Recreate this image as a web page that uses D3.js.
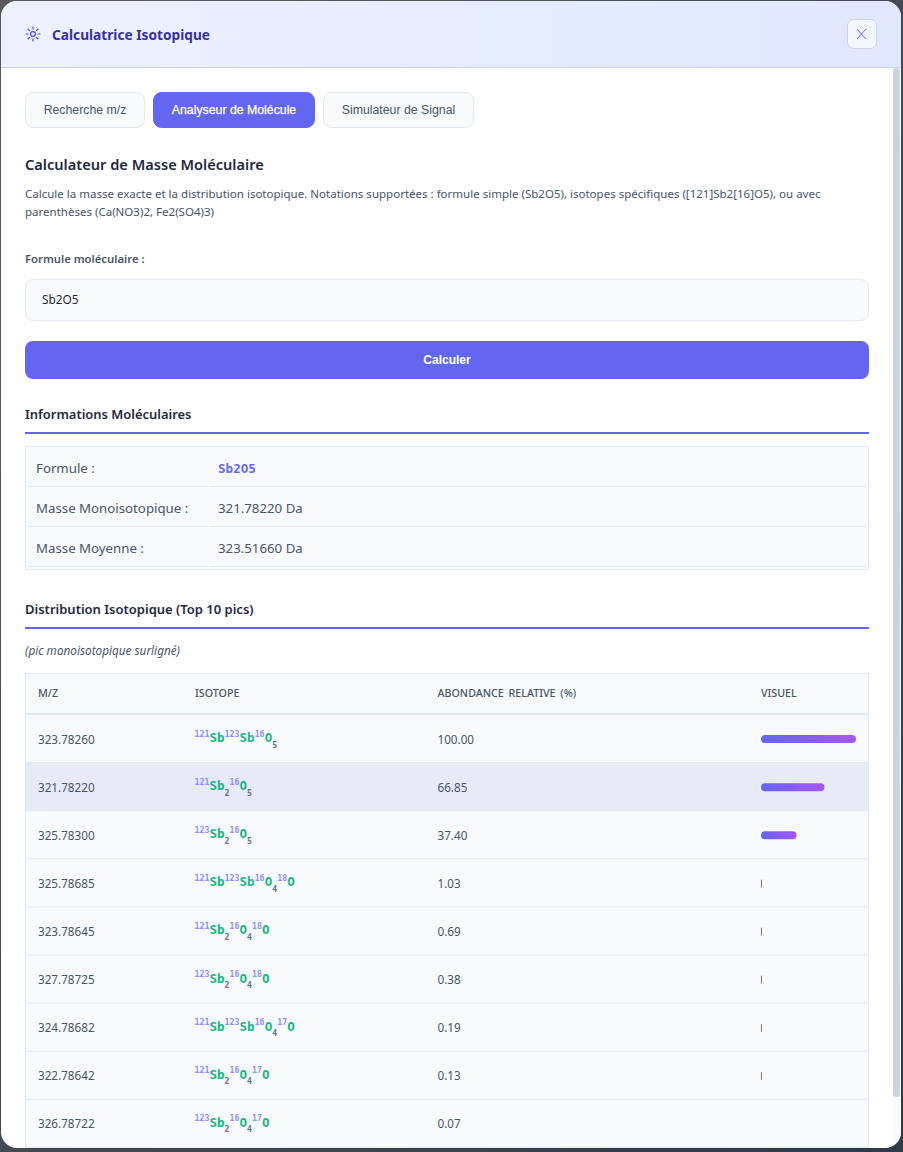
<!DOCTYPE html>
<html lang="fr">

<head>
    <meta charset="UTF-8">
    <title>Calculatrice Isotopique</title>
    <style>
    html, body { margin: 0; padding: 0; background: #3c484d; overflow: hidden; }
    svg { display: block; }
    text { font-family: "Noto Sans", "Open Sans", sans-serif; }
    .arial { font-family: "Liberation Sans", Arial, sans-serif; }
    .mono { font-family: "DejaVu Sans Mono", monospace; font-weight: bold; }
    </style>
</head>

<body>
    <script src="https://d3js.org/d3.v7.min.js"></script>
    <script>
    var width = 903, height = 1152;

    var tabLabels = ["Recherche m/z", "Analyseur de Molécule", "Simulateur de Signal"];
    var infoLabels = ["Formule :", "Masse Monoisotopique :", "Masse Moyenne :"];
    var infoValues = ["Sb2O5", "321.78220 Da", "323.51660 Da"];
    var columnHeaders = ["M/Z", "ISOTOPE", "ABONDANCE RELATIVE (%)", "VISUEL"];

    var mzValues = ["323.78260", "321.78220", "325.78300", "325.78685", "323.78645",
        "327.78725", "324.78682", "322.78642", "326.78722"];
    var isotopes = ["[121]Sb[123]Sb[16]O5", "[121]Sb2[16]O5", "[123]Sb2[16]O5",
        "[121]Sb[123]Sb[16]O4[18]O", "[121]Sb2[16]O4[18]O", "[123]Sb2[16]O4[18]O",
        "[121]Sb[123]Sb[16]O4[17]O", "[121]Sb2[16]O4[17]O", "[123]Sb2[16]O4[17]O"];
    var abundances = [100.00, 66.85, 37.40, 1.03, 0.69, 0.38, 0.19, 0.13, 0.07];
    var monoIndex = 1; // ligne surlignée

    var svg = d3.select('body').append('svg').attr('width', width).attr('height', height);
    var defs = svg.append('defs');

    function gradient(id, x2, y2, c1, c2) {
        var g = defs.append('linearGradient').attr('id', id)
            .attr('x1', 0).attr('y1', 0).attr('x2', x2).attr('y2', y2);
        g.append('stop').attr('offset', 0).attr('stop-color', c1);
        g.append('stop').attr('offset', 1).attr('stop-color', c2);
    }
    gradient('headGrad', 1, 0, '#eef2ff', '#e0e7ff');
    gradient('barGrad', 1, 0, '#6366f1', '#a855f7');
    gradient('backGrad', 1, 1, '#5a5a5a', '#2e3a48');

    defs.append('clipPath').attr('id', 'win').append('rect')
        .attr('x', 1).attr('y', 1).attr('width', 900).attr('height', 1147).attr('rx', 16);

    function addText(parent, x, y, str, size, color, weight, cls) {
        return parent.append('text').attr('x', x).attr('y', y).text(str)
            .attr('font-size', size).attr('fill', color)
            .attr('font-weight', weight || 400).attr('class', cls || null);
    }

    svg.append('rect').attr('width', width).attr('height', height).attr('fill', 'url(#backGrad)');
    var win = svg.append('g').attr('clip-path', 'url(#win)');
    win.append('rect').attr('x', 1).attr('y', 1).attr('width', 900).attr('height', 1147).attr('fill', '#fff');

    // en-tête
    win.append('rect').attr('x', 1).attr('y', 1).attr('width', 900).attr('height', 66.5).attr('fill', 'url(#headGrad)');
    win.append('rect').attr('x', 1).attr('y', 67).attr('width', 900).attr('height', 1).attr('fill', '#c7d2fe');

    var icon = win.append('g').attr('transform', 'translate(33,34)')
        .attr('stroke', '#4f46e5').attr('fill', 'none').attr('stroke-width', 1.2);
    icon.append('circle').attr('r', 2.4);
    icon.selectAll('line').data(d3.range(8)).enter().append('line')
        .attr('stroke-linecap', 'round')
        .attr('x1', function(d) { return 5 * Math.cos(d * Math.PI / 4); })
        .attr('y1', function(d) { return 5 * Math.sin(d * Math.PI / 4); })
        .attr('x2', function(d) { return 7 * Math.cos(d * Math.PI / 4); })
        .attr('y2', function(d) { return 7 * Math.sin(d * Math.PI / 4); });
    addText(win, 52, 39.5, 'Calculatrice Isotopique', 13.7, '#3730a3', 700);

    win.append('rect').attr('x', 847.5).attr('y', 19.5).attr('width', 29).attr('height', 29).attr('rx', 6)
        .attr('fill', '#f5f7ff').attr('stroke', '#c7d2fe');
    win.append('path').attr('d', 'M857 29 L866 39 M866 29 L857 39').attr('stroke', '#6366f1').attr('fill', 'none');

    // onglets
    var tabX = [25, 153, 323], tabW = [120, 162, 151];
    var tabs = win.selectAll('.tab').data(tabLabels).enter().append('g').attr('class', 'tab');
    tabs.append('rect')
        .attr('x', function(d, i) { return tabX[i] + .5; }).attr('y', 92.5)
        .attr('width', function(d, i) { return tabW[i] - 1; }).attr('height', 35).attr('rx', 8)
        .attr('fill', function(d, i) { return i == 1 ? '#6366f1' : '#f8fafc'; })
        .attr('stroke', function(d, i) { return i == 1 ? '#6366f1' : '#e2e8f0'; });
    tabs.append('text').attr('class', 'arial')
        .attr('x', function(d, i) { return tabX[i] + tabW[i] / 2; }).attr('y', 114)
        .attr('text-anchor', 'middle').attr('font-size', 12.3)
        .attr('stroke', function(d, i) { return i == 1 ? '#fff' : 'none'; })
        .attr('stroke-width', .25)
        .attr('fill', function(d, i) { return i == 1 ? '#fff' : '#475569'; })
        .text(function(d) { return d; });

    addText(win, 25, 170, 'Calculateur de Masse Moléculaire', 14.6, '#1e293b', 600);
    addText(win, 25, 198, 'Calcule la masse exacte et la distribution isotopique. Notations supportées : formule simple (Sb2O5), isotopes spécifiques ([121]Sb2[16]O5), ou avec', 11.52, '#475569');
    addText(win, 25, 216, 'parenthèses (Ca(NO3)2, Fe2(SO4)3)', 11.52, '#475569');

    addText(win, 25, 263, 'Formule moléculaire :', 11.3, '#475569', 600);
    win.append('rect').attr('x', 25.5).attr('y', 279.5).attr('width', 843).attr('height', 41).attr('rx', 8)
        .attr('fill', '#f8fafc').attr('stroke', '#e2e8f0');
    addText(win, 42, 304, 'Sb2O5', 11.8, '#1e293b');

    win.append('rect').attr('x', 25).attr('y', 341).attr('width', 844).attr('height', 38).attr('rx', 8).attr('fill', '#6366f1');
    addText(win, 447, 364, 'Calculer', 12, '#fff', 700, 'arial').attr('text-anchor', 'middle');

    // informations
    addText(win, 25, 419, 'Informations Moléculaires', 12.95, '#1e293b', 600);
    win.append('rect').attr('x', 25).attr('y', 432).attr('width', 844).attr('height', 2).attr('fill', '#6366f1');

    win.append('rect').attr('x', 25.5).attr('y', 446.5).attr('width', 843).attr('height', 123)
        .attr('fill', '#f8fafc').attr('stroke', '#e2e8f0');
    var infoY = d3.scaleBand().domain(d3.range(infoLabels.length)).range([447, 567]);
    var infos = win.selectAll('.info').data(infoLabels).enter().append('g').attr('class', 'info')
        .attr('transform', function(d, i) { return 'translate(0,' + infoY(i) + ')'; });
    infos.append('rect').attr('x', 28).attr('width', 180).attr('y', infoY.bandwidth() - 1).attr('height', 1).attr('fill', '#e2e8f0');
    infos.append('rect').attr('x', 210).attr('width', 656).attr('y', infoY.bandwidth() - 1).attr('height', 1).attr('fill', '#e2e8f0');
    infos.append('text').attr('x', 36).attr('y', 26).attr('font-size', 13.25).attr('fill', '#475569')
        .text(function(d) { return d; });
    infos.append('text').attr('x', 218).attr('y', function(d, i) { return i == 0 ? 25.5 : 26; })
        .attr('font-size', function(d, i) { return i == 0 ? 12.6 : 13.25; })
        .attr('class', function(d, i) { return i == 0 ? 'mono' : null; })
        .attr('fill', function(d, i) { return i == 0 ? '#6366f1' : '#475569'; })
        .text(function(d, i) { return infoValues[i]; });

    // distribution
    addText(win, 25, 614, 'Distribution Isotopique (Top 10 pics)', 13, '#1e293b', 600);
    win.append('rect').attr('x', 25).attr('y', 627).attr('width', 844).attr('height', 2).attr('fill', '#6366f1');
    addText(win, 25, 655, '(pic monoisotopique surligné)', 11.75, '#475569').attr('font-style', 'italic');

    win.append('rect').attr('x', 25.5).attr('y', 673.5).attr('width', 843).attr('height', 500)
        .attr('fill', '#f8fafc').attr('stroke', '#e2e8f0');
    win.append('rect').attr('x', 26).attr('y', 713).attr('width', 842).attr('height', 2).attr('fill', '#e2e8f0');

    var columnX = [38, 195, 437.5, 761];
    win.selectAll('.head').data(columnHeaders).enter().append('text').attr('class', 'head')
        .attr('x', function(d, i) { return columnX[i]; }).attr('y', 697)
        .attr('font-size', 10.7).attr('font-weight', 500).attr('fill', '#475569')
        .attr('word-spacing', 2)
        .text(function(d) { return d; });

    var rowY = d3.scaleBand().domain(d3.range(mzValues.length)).range([715, 1148]);
    var barX = d3.scaleLinear().domain([0, 100]).range([0, 95]);

    var rows = win.selectAll('.row').data(abundances).enter().append('g').attr('class', 'row')
        .attr('transform', function(d, i) { return 'translate(0,' + rowY(i) + ')'; });
    var rh = rowY.bandwidth();

    rows.append('rect').attr('x', 26).attr('width', 842).attr('height', rh - 1)
        .attr('fill', function(d, i) { return i == monoIndex ? '#e8eaf8' : '#f8fafc'; });
    rows.append('rect').attr('x', 26).attr('width', 842).attr('y', rh - 1).attr('height', 1).attr('fill', '#e2e8f0');

    rows.append('text').attr('x', columnX[0]).attr('y', rh / 2 + 4.5)
        .attr('font-size', 11.7).attr('fill', '#475569')
        .text(function(d, i) { return mzValues[i]; });

    // formule isotopique : exposant masse, élément, indice
    rows.append('text').attr('class', 'mono').attr('x', columnX[1] - .5).attr('y', rh / 2 + 3)
        .each(function(d, i) {
            var t = d3.select(this), shift = 0, m;
            var re = /\[(\d+)\]([A-Z][a-z]?)(\d*)/g;
            function part(str, size, color, level) {
                t.append('tspan').attr('font-size', size).attr('fill', color)
                    .attr('dy', level - shift).text(str);
                shift = level;
            }
            while ((m = re.exec(isotopes[i])) !== null) {
                part(m[1], 8.3, '#9090f8', -5.5);
                part(m[2], 12.5, '#10b981', 0);
                if (m[3]) part(m[3], 8.3, '#64748b', 5.5);
            }
        });

    rows.append('text').attr('x', columnX[2]).attr('y', rh / 2 + 4.5)
        .attr('font-size', 11.7).attr('fill', '#475569')
        .text(function(d) { return d.toFixed(2); });

    rows.append('rect')
        .attr('x', columnX[3]).attr('y', rh / 2 - 4).attr('height', 8)
        .attr('width', function(d) {
            var w = barX(d);
            return w < .1 ? 0 : Math.max(1, w);
        })
        .attr('rx', function(d) { return Math.min(4, Math.max(1, barX(d)) / 2); })
        .attr('fill', 'url(#barGrad)');

    // barre de défilement
    win.append('rect').attr('x', 893).attr('y', 68).attr('width', 8).attr('height', 1080).attr('fill', '#f8fafc');
    win.append('rect').attr('x', 893).attr('y', 68).attr('width', 7).attr('height', 1029).attr('rx', 3).attr('fill', '#cbd5e1');
    </script>
</body>

</html>
